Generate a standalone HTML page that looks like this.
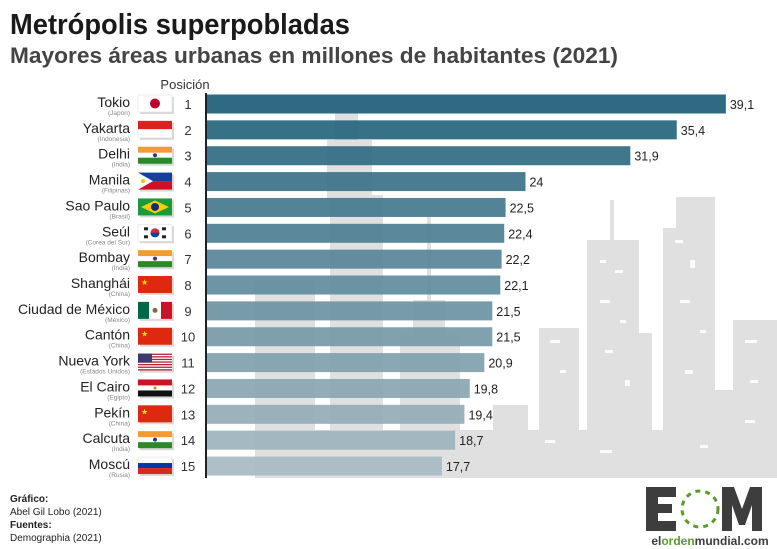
<!DOCTYPE html>
<html><head><meta charset="utf-8"><style>
body{margin:0;width:777px;height:549px;background:#fff;font-family:"Liberation Sans",sans-serif;overflow:hidden;position:relative}
</style></head><body>
<svg width="777" height="549" style="position:absolute;left:0;top:0" font-family="Liberation Sans, sans-serif">
<text x="10" y="34" font-size="29" font-weight="bold" fill="#1a1a1a" textLength="340" lengthAdjust="spacingAndGlyphs">Metrópolis superpobladas</text>
<text x="10" y="63" font-size="22.5" font-weight="bold" fill="#444" textLength="608" lengthAdjust="spacingAndGlyphs">Mayores áreas urbanas en millones de habitantes (2021)</text>
<g fill="#e0e0e0">
<rect x="255" y="280" width="60" height="198"/>
<rect x="330" y="195" width="53" height="283"/><rect x="335" y="113" width="23" height="90"/><rect x="327" y="140" width="45" height="60"/>
<rect x="400" y="335" width="60" height="143"/><rect x="413" y="300" width="32" height="40"/><rect x="427" y="215" width="4" height="90"/>
<rect x="493" y="405" width="35" height="73"/>
<rect x="539" y="328" width="40" height="150"/>
<rect x="587" y="240" width="52" height="238"/><rect x="610" y="200" width="4" height="45"/>
<rect x="639" y="333" width="13" height="145"/>
<rect x="663" y="228" width="52" height="250"/><rect x="676" y="197" width="39" height="35"/>
<rect x="715" y="390" width="18" height="88"/>
<rect x="733" y="320" width="44" height="158"/>
<rect x="255" y="430" width="522" height="48"/>
</g>
<g fill="#fff" opacity="0.9">
<rect x="600" y="260" width="6" height="3"/><rect x="615" y="270" width="8" height="3"/><rect x="600" y="300" width="10" height="3"/><rect x="620" y="320" width="6" height="3"/><rect x="605" y="350" width="8" height="3"/><rect x="625" y="380" width="5" height="6"/>
<rect x="675" y="240" width="8" height="3"/><rect x="690" y="260" width="5" height="8"/><rect x="680" y="300" width="10" height="3"/><rect x="700" y="330" width="6" height="3"/><rect x="685" y="370" width="8" height="4"/>
<rect x="550" y="340" width="10" height="3"/><rect x="560" y="370" width="6" height="3"/><rect x="745" y="340" width="12" height="3"/><rect x="750" y="380" width="8" height="3"/><rect x="745" y="420" width="10" height="3"/>
<rect x="545" y="440" width="10" height="3"/><rect x="600" y="450" width="12" height="3"/><rect x="700" y="445" width="8" height="3"/>
</g>
<text x="185" y="89" font-size="13" fill="#333" text-anchor="middle">Posición</text>
<line x1="206" y1="93" x2="206" y2="478" stroke="#222" stroke-width="2"/>
<g id="rows"></g>
<g font-size="10" fill="#222">
<text x="10" y="502" font-weight="bold">Gráfico:</text>
<text x="10" y="515">Abel Gil Lobo (2021)</text>
<text x="10" y="528" font-weight="bold">Fuentes:</text>
<text x="10" y="541">Demographia (2021)</text>
</g>
<g>
<rect x="646" y="487" width="12" height="44" fill="#3d3d3d"/><rect x="646" y="487" width="30" height="10" fill="#3d3d3d"/><rect x="646" y="504" width="26" height="9" fill="#3d3d3d"/><rect x="646" y="521" width="30" height="10" fill="#3d3d3d"/>
<circle cx="700" cy="509" r="18" fill="none" stroke="#5a9a2a" stroke-width="3" stroke-dasharray="5 5"/>
<path d="M722 531V487h12l8 22 8-22h12v44h-10v-26l-7 20h-6l-7-20v26z" fill="#3d3d3d"/>
<text x="710" y="545" font-size="12" font-weight="bold" fill="#3d3d3d" text-anchor="middle">el<tspan fill="#5a9a2a">orden</tspan>mundial.com</text>
</g>
</svg>
<script>
var d=[["Tokio","(Japón)",39.1,"39,1"],["Yakarta","(Indonesia)",35.4,"35,4"],["Delhi","(India)",31.9,"31,9"],["Manila","(Filipinas)",24,"24"],["Sao Paulo","(Brasil)",22.5,"22,5"],["Seúl","(Corea del Sur)",22.4,"22,4"],["Bombay","(India)",22.2,"22,2"],["Shanghái","(China)",22.1,"22,1"],["Ciudad de México","(México)",21.5,"21,5"],["Cantón","(China)",21.5,"21,5"],["Nueva York","(Estados Unidos)",20.9,"20,9"],["El Cairo","(Egipto)",19.8,"19,8"],["Pekín","(China)",19.4,"19,4"],["Calcuta","(India)",18.7,"18,7"],["Moscú","(Rusia)",17.7,"17,7"]];
var fl=["jp","id","in","ph","br","kr","in","cn","mx","cn","us","eg","cn","in","ru"];
function flag(t,x,y){var w=34,h=17,s='';
if(t=="jp")s=`<rect x="${x}" y="${y}" width="${w}" height="${h}" fill="#fff" stroke="#ddd" stroke-width=".5"/><circle cx="${x+17}" cy="${y+8.5}" r="5" fill="#bc002d"/>`;
else if(t=="id")s=`<rect x="${x}" y="${y}" width="${w}" height="${h/2}" fill="#e0201e"/><rect x="${x}" y="${y+h/2}" width="${w}" height="${h/2}" fill="#fff" stroke="#ddd" stroke-width=".5"/>`;
else if(t=="in")s=`<rect x="${x}" y="${y}" width="${w}" height="6" fill="#f39a33"/><rect x="${x}" y="${y+6}" width="${w}" height="5" fill="#fff"/><rect x="${x}" y="${y+11}" width="${w}" height="6" fill="#2a8a2a"/><circle cx="${x+17}" cy="${y+8.5}" r="2" fill="#2a3a8a"/>`;
else if(t=="ph")s=`<rect x="${x}" y="${y}" width="${w}" height="8.5" fill="#1a3f9a"/><rect x="${x}" y="${y+8.5}" width="${w}" height="8.5" fill="#ce1126"/><polygon points="${x},${y} ${x+15},${y+8.5} ${x},${y+17}" fill="#fff"/><circle cx="${x+5}" cy="${y+8.5}" r="2" fill="#f5c500"/>`;
else if(t=="br")s=`<rect x="${x}" y="${y}" width="${w}" height="${h}" fill="#1a9a3a"/><polygon points="${x+17},${y+2} ${x+31},${y+8.5} ${x+17},${y+15} ${x+3},${y+8.5}" fill="#f7d000"/><circle cx="${x+17}" cy="${y+8.5}" r="4" fill="#1a2a7a"/>`;
else if(t=="kr")s=`<rect x="${x}" y="${y}" width="${w}" height="${h}" fill="#fff" stroke="#ddd" stroke-width=".5"/><circle cx="${x+17}" cy="${y+8.5}" r="4.5" fill="#cd2e3a"/><path d="M${x+12.5} ${y+8.5}a4.5 4.5 0 0 0 9 0z" fill="#0047a0"/><g fill="#222"><rect x="${x+6}" y="${y+3}" width="4" height="3"/><rect x="${x+24}" y="${y+3}" width="4" height="3"/><rect x="${x+6}" y="${y+11}" width="4" height="3"/><rect x="${x+24}" y="${y+11}" width="4" height="3"/></g>`;
else if(t=="cn")s=`<rect x="${x}" y="${y}" width="${w}" height="${h}" fill="#de2910"/><text x="${x+3}" y="${y+9}" font-size="8" fill="#ffde00">★</text>`;
else if(t=="mx")s=`<rect x="${x}" y="${y}" width="11" height="${h}" fill="#006847"/><rect x="${x+11}" y="${y}" width="12" height="${h}" fill="#fff"/><rect x="${x+23}" y="${y}" width="11" height="${h}" fill="#ce1126"/><circle cx="${x+17}" cy="${y+8.5}" r="2.5" fill="#8a6a3a"/>`;
else if(t=="us"){s=`<rect x="${x}" y="${y}" width="${w}" height="${h}" fill="#fff"/>`;for(var i=0;i<7;i++)s+=`<rect x="${x}" y="${y+i*2.6}" width="${w}" height="1.3" fill="#b22234"/>`;s+=`<rect x="${x}" y="${y}" width="14" height="9" fill="#3c3b6e"/>`;}
else if(t=="eg")s=`<rect x="${x}" y="${y}" width="${w}" height="6" fill="#ce1126"/><rect x="${x}" y="${y+6}" width="${w}" height="5" fill="#fff"/><rect x="${x}" y="${y+11}" width="${w}" height="6" fill="#111"/><circle cx="${x+17}" cy="${y+8.5}" r="1.5" fill="#c09300"/>`;
else if(t=="ru")s=`<rect x="${x}" y="${y}" width="${w}" height="6" fill="#fff" stroke="#ddd" stroke-width=".5"/><rect x="${x}" y="${y+6}" width="${w}" height="5" fill="#0039a6"/><rect x="${x}" y="${y+11}" width="${w}" height="6" fill="#d52b1e"/>`;
return s;}
var c0=[30,96,121],c1=[168,186,195],out='';
d.forEach(function(r,i){var cy=104+i*25.86,f=i/14;
var col='rgb('+c0.map((v,k)=>Math.round(v+(c1[k]-v)*f)).join(',')+')';
var w=r[2]*13.27;
out+=`<rect x="207" y="${cy-9.5}" width="${w}" height="19" fill="${col}" opacity="0.93"/>`;
out+=`<text x="${207+w+4}" y="${cy+5}" font-size="12.5" fill="#222">${r[3]}</text>`;
out+=`<text x="130" y="${cy+3}" font-size="14" fill="#222" text-anchor="end">${r[0]}</text>`;
out+=`<text x="130" y="${cy+11}" font-size="6.5" fill="#888" text-anchor="end">${r[1]}</text>`;
out+=`<rect x="140" y="${cy-7}" width="34" height="17" fill="#000" opacity=".15"/>`+flag(fl[i],138,cy-9);
out+=`<text x="188" y="${cy+5}" font-size="13" fill="#333" text-anchor="middle">${i+1}</text>`;});
document.getElementById('rows').innerHTML=out;
</script>
</body></html>
